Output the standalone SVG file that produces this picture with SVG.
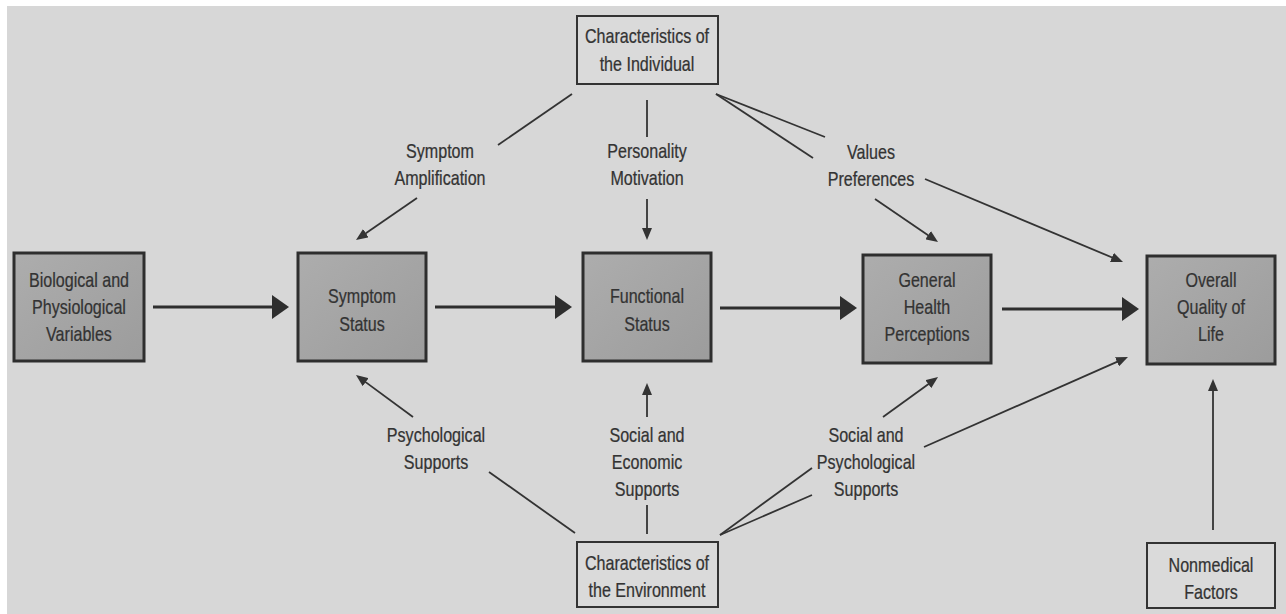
<svg xmlns="http://www.w3.org/2000/svg" width="1286" height="614" viewBox="0 0 1286 614">
<defs>
<style>
.t{font-family:"Liberation Sans",Arial,sans-serif;font-size:20.5px;fill:#333;stroke:#333;stroke-width:0.25;text-anchor:middle}
.box{fill:url(#g);stroke:#2e2e2e;stroke-width:3}
.obox{fill:#dadada;stroke:#333;stroke-width:2}
.main{stroke:#2e2e2e;stroke-width:3;fill:none}
.thin{stroke:#333;stroke-width:1.8;fill:none}
.big{marker-end:url(#ab)}
.sm{marker-end:url(#as)}
</style>
<linearGradient id="g" x1="0" y1="0" x2="1" y2="1">
<stop offset="0" stop-color="#adadad"/>
<stop offset="1" stop-color="#9c9c9c"/>
</linearGradient>
<marker id="ab" markerUnits="userSpaceOnUse" markerWidth="17" markerHeight="24" refX="9" refY="12" orient="auto">
<path d="M0,0 L17,12 L0,24 z" fill="#2e2e2e"/>
</marker>
<marker id="as" markerUnits="userSpaceOnUse" markerWidth="12" markerHeight="10" refX="8" refY="5" orient="auto">
<path d="M0,0 L12,5 L0,10 z" fill="#333"/>
</marker>
</defs>
<rect width="1286" height="614" fill="#ffffff"/>
<rect x="7" y="6" width="1279" height="608" fill="#d7d7d7"/>

<g id="connectors">
<line class="main big" x1="153" y1="307" x2="281" y2="307"/>
<line class="main big" x1="435" y1="307" x2="564" y2="307"/>
<line class="main big" x1="720" y1="308" x2="849" y2="308"/>
<line class="main big" x1="1002" y1="309" x2="1131" y2="309"/>

<line class="thin" x1="572" y1="94" x2="498" y2="145"/>
<line class="thin sm" x1="417" y1="198" x2="359.3" y2="237.7"/>
<line class="thin" x1="647" y1="100" x2="647" y2="137"/>
<line class="thin sm" x1="647" y1="199" x2="647" y2="236"/>
<line class="thin" x1="716" y1="94" x2="825" y2="137"/>
<line class="thin" x1="716" y1="94" x2="813" y2="158"/>
<line class="thin sm" x1="875" y1="199" x2="934.7" y2="239.7"/>
<line class="thin sm" x1="925" y1="179" x2="1119.3" y2="260.5"/>

<line class="thin" x1="575" y1="533" x2="489" y2="472"/>
<line class="thin sm" x1="413" y1="417" x2="359.2" y2="377.4"/>
<line class="thin" x1="647" y1="534" x2="647" y2="505"/>
<line class="thin sm" x1="647" y1="417" x2="647" y2="387"/>
<line class="thin" x1="720" y1="535" x2="812" y2="468"/>
<line class="thin" x1="720" y1="535" x2="812" y2="495"/>
<line class="thin sm" x1="883" y1="417" x2="934.8" y2="379.4"/>
<line class="thin sm" x1="924" y1="447" x2="1124.3" y2="358.6"/>
<line class="thin sm" x1="1213" y1="530" x2="1213" y2="383"/>
</g>

<g id="individual">
<rect class="obox" x="577" y="16" width="141" height="68"/>
<text class="t" transform="translate(647,0) scale(0.785,1)"><tspan x="0" y="43">Characteristics of</tspan><tspan x="0" y="71">the Individual</tspan></text>
</g>
<g id="biological">
<rect class="box" x="14" y="253" width="130" height="108"/>
<text class="t" transform="translate(79,0) scale(0.785,1)"><tspan x="0" y="287">Biological and</tspan><tspan x="0" y="314">Physiological</tspan><tspan x="0" y="341">Variables</tspan></text>
</g>
<g id="symptom">
<rect class="box" x="298" y="253" width="128" height="108"/>
<text class="t" transform="translate(362,0) scale(0.785,1)"><tspan x="0" y="303">Symptom</tspan><tspan x="0" y="331">Status</tspan></text>
</g>
<g id="functional">
<rect class="box" x="583" y="253" width="128" height="108"/>
<text class="t" transform="translate(647,0) scale(0.785,1)"><tspan x="0" y="303">Functional</tspan><tspan x="0" y="331">Status</tspan></text>
</g>
<g id="general">
<rect class="box" x="863" y="255" width="128" height="108"/>
<text class="t" transform="translate(927,0) scale(0.785,1)"><tspan x="0" y="287">General</tspan><tspan x="0" y="314">Health</tspan><tspan x="0" y="341">Perceptions</tspan></text>
</g>
<g id="overall">
<rect class="box" x="1147" y="256" width="128" height="108"/>
<text class="t" transform="translate(1211,0) scale(0.785,1)"><tspan x="0" y="287">Overall</tspan><tspan x="0" y="314">Quality of</tspan><tspan x="0" y="341">Life</tspan></text>
</g>
<g id="environment">
<rect class="obox" x="577" y="542" width="141" height="65"/>
<text class="t" transform="translate(647,0) scale(0.785,1)"><tspan x="0" y="570">Characteristics of</tspan><tspan x="0" y="597">the Environment</tspan></text>
</g>
<g id="nonmedical">
<rect class="obox" x="1147" y="543" width="128" height="65"/>
<text class="t" transform="translate(1211,0) scale(0.785,1)"><tspan x="0" y="572">Nonmedical</tspan><tspan x="0" y="599">Factors</tspan></text>
</g>

<g id="labels">
<text class="t" transform="translate(440,0) scale(0.785,1)"><tspan x="0" y="158">Symptom</tspan><tspan x="0" y="185">Amplification</tspan></text>
<text class="t" transform="translate(647,0) scale(0.785,1)"><tspan x="0" y="158">Personality</tspan><tspan x="0" y="185">Motivation</tspan></text>
<text class="t" transform="translate(871,0) scale(0.785,1)"><tspan x="0" y="159">Values</tspan><tspan x="0" y="186">Preferences</tspan></text>
<text class="t" transform="translate(436,0) scale(0.785,1)"><tspan x="0" y="442">Psychological</tspan><tspan x="0" y="469">Supports</tspan></text>
<text class="t" transform="translate(647,0) scale(0.785,1)"><tspan x="0" y="442">Social and</tspan><tspan x="0" y="469">Economic</tspan><tspan x="0" y="496">Supports</tspan></text>
<text class="t" transform="translate(866,0) scale(0.785,1)"><tspan x="0" y="442">Social and</tspan><tspan x="0" y="469">Psychological</tspan><tspan x="0" y="496">Supports</tspan></text>
</g>
</svg>
